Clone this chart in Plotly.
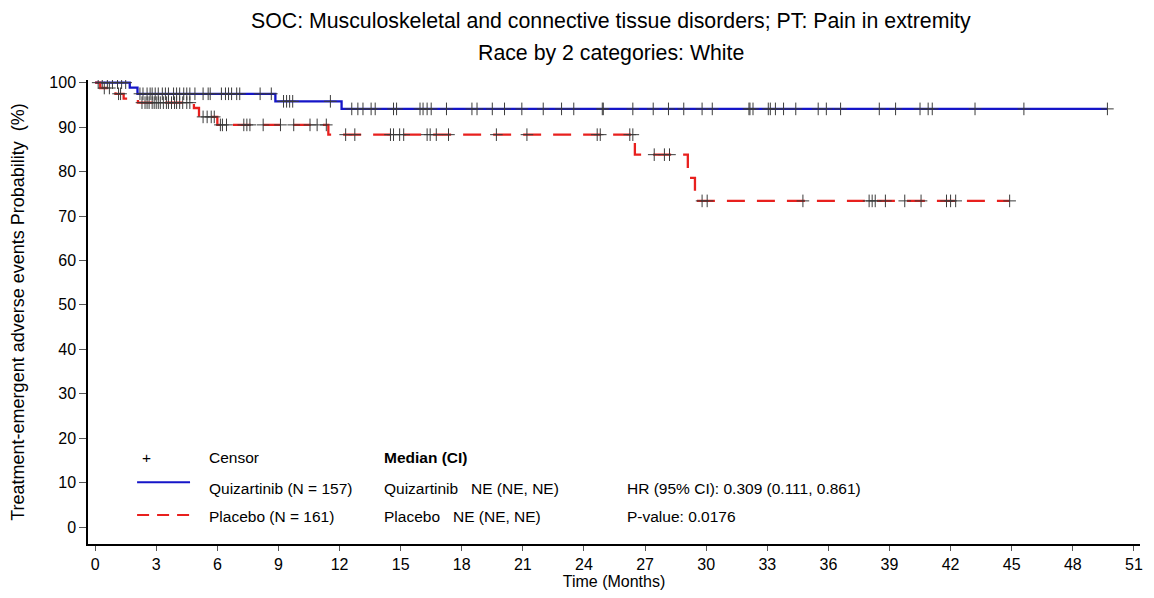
import numpy as np
import plotly.graph_objects as go

# Kaplan-Meier step data (time in months, probability in %)
quiz_time = [0, 1.7, 2.08, 8.85, 12.1]
quiz_surv = [100, 98.9, 97.5, 95.8, 94.1]
quiz_end = 49.7
quiz_censor = [0.15, 0.35, 0.6, 0.85, 1.1, 1.3, 1.5,
               2.2, 2.35, 2.55, 2.7, 2.8, 2.95, 3.1, 3.3, 3.45, 3.6, 3.85, 4.0, 4.15,
               4.35, 4.5, 4.65, 4.9, 5.3, 5.55, 5.65, 6.2, 6.4, 6.55, 6.7, 6.95, 7.1,
               8.1, 8.65, 9.25, 9.4, 9.55, 9.7, 11.55,
               12.6, 12.9, 13.15, 13.55, 13.75, 14.65, 14.8, 15.95, 16.1, 16.3, 16.5,
               17.25, 18.5, 18.75, 19.5, 20.1, 20.95, 22.0, 22.9, 23.5, 24.9, 24.95,
               26.4, 27.4, 28.15, 28.9, 29.8, 30.3, 32.1, 32.15, 32.3, 33.05, 33.15,
               33.4, 33.8, 34.4, 35.5, 35.9, 36.6, 38.5, 39.3, 40.5, 40.9, 41.1,
               43.2, 45.6, 49.7]

plac_time = [0, 0.25, 1.0, 1.4, 2.1, 4.85, 5.1, 6.0, 11.45, 26.5, 29.1, 29.45]
plac_surv = [100, 98.8, 97.5, 96.4, 95.5, 94.3, 92.3, 90.5, 88.3, 83.8, 78.6, 73.4]
plac_end = 44.9
plac_censor = [0.45, 0.7, 1.15, 1.25,
               2.3, 2.45, 2.55, 2.65, 2.8, 2.9, 3.0, 3.1, 3.2, 3.35, 3.5, 3.6, 3.75,
               3.9, 4.0, 4.15, 4.3, 4.5, 4.65,
               5.3, 5.5, 5.7, 5.85,
               6.15, 6.25, 6.45, 7.3, 7.45, 7.6, 8.25, 9.1, 9.75, 10.55, 10.9, 11.35,
               12.3, 12.75, 14.5, 14.65, 14.95, 15.15, 16.3, 16.45, 16.75, 17.35,
               19.7, 21.2, 24.65, 24.8, 26.25, 26.4,
               27.45, 27.95, 28.2,
               29.8, 30.05, 34.75, 38.0, 38.15, 38.3, 38.8, 39.75, 40.55, 41.8, 42.0,
               42.25, 44.9]

x_ticks = list(range(0, 52, 3))
y_ticks = list(range(0, 101, 10))

FONT = "Liberation Sans, Arial, sans-serif"
NARROW = "Liberation Sans Narrow, Liberation Sans, Arial, sans-serif"


def step_value(times, surv, t):
    idx = np.searchsorted(times, t, side="right") - 1
    return np.array(surv)[idx]


fig = go.Figure()

# curves
fig.add_trace(go.Scatter(x=quiz_time + [quiz_end], y=quiz_surv + [quiz_surv[-1]],
                         mode="lines", line=dict(color="#1515C8", width=2.3, shape="hv"),
                         showlegend=False))
fig.add_trace(go.Scatter(x=plac_time + [plac_end], y=plac_surv + [plac_surv[-1]],
                         mode="lines",
                         line=dict(color="#E8201E", width=2.3, shape="hv", dash="18px,12px"),
                         showlegend=False))

# censor marks
for times, surv, cens in [(quiz_time, quiz_surv, quiz_censor),
                          (plac_time, plac_surv, plac_censor)]:
    fig.add_trace(go.Scatter(x=cens, y=step_value(times, surv, cens), mode="markers",
                             marker=dict(symbol="cross-thin", size=9,
                                         line=dict(color="#3a3a3a", width=1)),
                             showlegend=False))

# legend block
fig.add_shape(type="line", x0=2.06, x1=4.66, y0=10.1, y1=10.1,
              line=dict(color="#1515C8", width=2))
fig.add_shape(type="line", x0=2.06, x1=4.66, y0=2.7, y1=2.7,
              line=dict(color="#E8201E", width=2, dash="12px,8px"))

legend_txt = [
    (2.2, 15.6, "+"),
    (5.5, 15.6, "Censor"),
    (14.1, 15.6, "<b>Median (CI)</b>"),
    (5.5, 8.6, "Quizartinib (N = 157)"),
    (14.1, 8.6, "Quizartinib&nbsp;&nbsp; NE (NE, NE)"),
    (26.0, 8.6, "HR (95% CI): 0.309 (0.111, 0.861)"),
    (5.5, 2.3, "Placebo (N = 161)"),
    (14.1, 2.3, "Placebo&nbsp;&nbsp; NE (NE, NE)"),
    (26.0, 2.3, "P-value: 0.0176"),
]
for x, y, t in legend_txt:
    fig.add_annotation(x=x, y=y, text=t, showarrow=False, xanchor="left",
                       yanchor="middle", font=dict(family=FONT, size=15.5, color="black"))

# titles
fig.add_annotation(x=0.497, y=1.127, xref="paper", yref="paper", showarrow=False,
                   xanchor="center", yanchor="middle",
                   text="SOC: Musculoskeletal and connective tissue disorders; PT: Pain in extremity",
                   font=dict(family=FONT, size=21.3, color="black"))
fig.add_annotation(x=0.497, y=1.058, xref="paper", yref="paper", showarrow=False,
                   xanchor="center", yanchor="middle",
                   text="Race by 2 categories: White",
                   font=dict(family=FONT, size=21.3, color="black"))

# page body has an 8px margin, so the figure is 8px smaller and margins shifted
fig.update_layout(
    width=1146, height=590,
    margin=dict(l=80, r=14, t=72, b=54),
    paper_bgcolor="white", plot_bgcolor="white",
    font=dict(family=FONT, color="black"),
    xaxis=dict(range=[-0.35, 51.3], tickvals=x_ticks, showgrid=False, zeroline=False,
               showline=True, linecolor="black", linewidth=2, automargin=False,
               ticks="outside", ticklen=5, tickcolor="#555",
               tickfont=dict(family=NARROW, size=16),
               title=dict(text="Time (Months)", font=dict(family=NARROW, size=16),
                          standoff=2)),
    yaxis=dict(range=[-3.8, 100.6], tickvals=y_ticks, showgrid=False, zeroline=False,
               showline=True, linecolor="black", linewidth=1.5, automargin=False,
               ticks="outside", ticklen=7, tickcolor="#555",
               tickfont=dict(family=FONT, size=16),
               title=dict(text="Treatment-emergent adverse events Probability&nbsp; (%)",
                          font=dict(family=FONT, size=18), standoff=20)),
)

fig.write_html("out.html")
